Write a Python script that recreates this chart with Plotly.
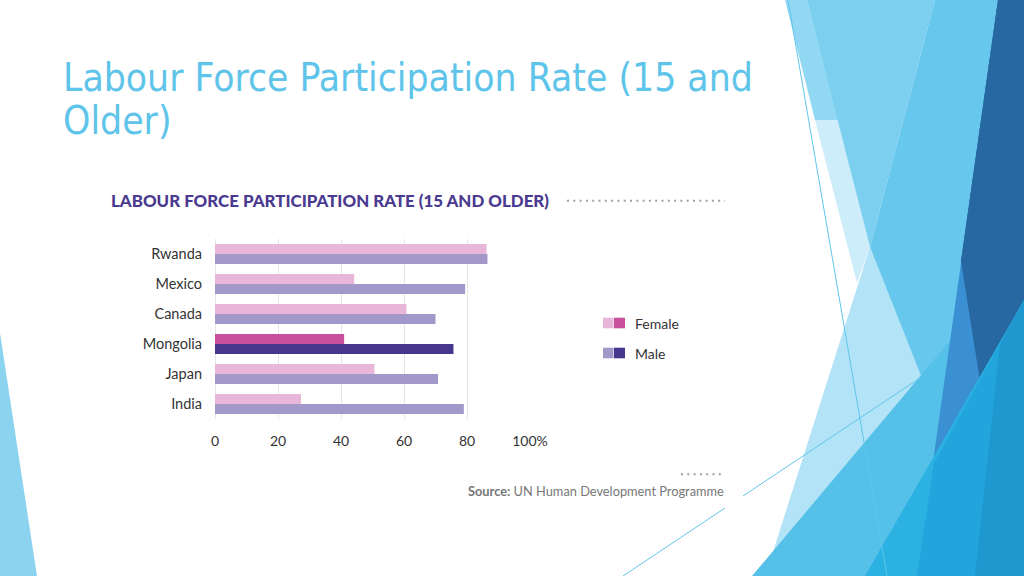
import plotly.graph_objects as go

# ---------------- data ----------------
countries = ["Rwanda", "Mexico", "Canada", "Mongolia", "Japan", "India"]
female = [86.2, 44.2, 60.8, 41.0, 50.6, 27.3]
male = [86.5, 79.4, 70.0, 75.7, 70.8, 79.0]
highlight = "Mongolia"
x_tickvals = [0, 20, 40, 60, 80, 100]
x_ticktext = ["0", "20", "40", "60", "80", "100%"]
series_names = ["Female", "Male"]

# ---------------- style ----------------
W, H = 1024, 576
FEM_LIGHT, FEM_DARK = "#e7b6d8", "#c9509c"
MAL_LIGHT, MAL_DARK = "#a398ca", "#46368e"
LABEL_FONT = "Lato, 'Open Sans', sans-serif"


def px(x):
    return x / W


def py(y):
    return 1 - y / H


def poly(pts):
    return "M " + " L ".join(f"{px(x):.4f},{py(y):.4f}" for x, y in pts) + " Z"


fem_colors = [FEM_DARK if c == highlight else FEM_LIGHT for c in countries]
mal_colors = [MAL_DARK if c == highlight else MAL_LIGHT for c in countries]

fig = go.Figure()
fig.add_trace(go.Bar(orientation="h", y=countries, x=female, name=series_names[0],
                     marker=dict(color=fem_colors, line=dict(width=0)), showlegend=False))
fig.add_trace(go.Bar(orientation="h", y=countries, x=male, name=series_names[1],
                     marker=dict(color=mal_colors, line=dict(width=0)), showlegend=False))

# ---------------- decorative background (slide theme) ----------------
deco = [
    ([(0, 333), (37, 576), (0, 576)], "#8cd3ef"),
    ([(785, 0), (807, 0), (838, 120), (815, 120)], "#92d7f3"),
    ([(815, 120), (838, 120), (870, 247), (857, 283)], "#cdedfa"),
    ([(870, 247), (921, 376), (766, 574)], "#b2e3f6"),
    ([(807, 0), (935, 0), (870, 247)], "#7dcff0"),
    ([(935, 0), (1024, 0), (1024, 576), (990, 576), (921, 376), (870, 247)], "#67c7ec"),
    ([(752, 576), (1024, 253), (1024, 576)], "#55c1e9"),
    ([(998, 0), (1024, 0), (1024, 576), (917, 576)], "#3a90d2"),
    ([(919, 0), (998, 0), (961, 261), (980, 380), (1024, 300), (1024, 0)], "#2e77ac"),
    ([(998, 0), (1024, 0), (1024, 300), (980, 380), (961, 261)], "#2868a2"),
    ([(1024, 300), (1024, 576), (865, 576)], "#2bb1e2"),
    ([(934, 463), (1024, 300), (1024, 576), (917, 576)], "#22a5dc"),
    ([(975, 576), (1024, 576), (1024, 300), (1000, 344)], "#1e98cf"),
]
shapes = []
for pts, col in deco:
    shapes.append(dict(type="path", xref="paper", yref="paper", path=poly(pts),
                       fillcolor=col, line=dict(width=0), layer="below"))

# thin decorative lines
for (x0, y0, x1, y1) in [(788, 0, 887, 576), (743, 496, 920, 378), (623, 576, 725, 508)]:
    shapes.append(dict(type="line", xref="paper", yref="paper",
                       x0=px(x0), y0=py(y0), x1=px(x1), y1=py(y1),
                       line=dict(color="#5ec6ea", width=1), layer="below"))

# dotted rules
shapes.append(dict(type="line", xref="paper", yref="paper", x0=px(567), x1=px(725),
                   y0=py(200.7), y1=py(200.7),
                   line=dict(color="#a0a0a0", width=2, dash="2px,4.3px")))
shapes.append(dict(type="line", xref="paper", yref="paper", x0=px(681), x1=px(721),
                   y0=py(474.3), y1=py(474.3),
                   line=dict(color="#a0a0a0", width=2, dash="2px,4.3px")))

# custom legend swatches (light + dark square per series)
legend_rows = [(series_names[0], FEM_LIGHT, FEM_DARK, 323), (series_names[1], MAL_LIGHT, MAL_DARK, 353)]
annotations = []
for name, lc, dc, yc in legend_rows:
    shapes.append(dict(type="rect", xref="paper", yref="paper", x0=px(603), x1=px(613.5),
                       y0=py(yc - 5.3), y1=py(yc + 5.3), fillcolor=lc, line=dict(width=0)))
    shapes.append(dict(type="rect", xref="paper", yref="paper", x0=px(614), x1=px(625),
                       y0=py(yc - 5.3), y1=py(yc + 5.3), fillcolor=dc, line=dict(width=0)))
    annotations.append(dict(xref="paper", yref="paper", x=px(633), y=py(yc), text=name,
                            xanchor="left", yanchor="middle", showarrow=False,
                            font=dict(family=LABEL_FONT, size=14, color="#333333")))

# slide title
title_font = dict(family="'Liberation Sans Narrow', 'DejaVu Sans Condensed', 'Liberation Sans', sans-serif",
                  size=38.7, color="#5ec4ea")
annotations.append(dict(xref="paper", yref="paper", x=px(61), y=py(77.5), xanchor="left",
                        yanchor="middle", showarrow=False,
                        text="Labour Force Participation Rate (15 and", font=title_font))
annotations.append(dict(xref="paper", yref="paper", x=px(61), y=py(120.5), xanchor="left",
                        yanchor="middle", showarrow=False, text="Older)", font=title_font))

# chart title
annotations.append(dict(xref="paper", yref="paper", x=px(109), y=py(200.7), xanchor="left",
                        yanchor="middle", showarrow=False,
                        text="LABOUR FORCE PARTICIPATION RATE (15 AND OLDER)",
                        font=dict(family=LABEL_FONT, size=16.9, color="#4a3a90", weight=900)))

# source
annotations.append(dict(xref="paper", yref="paper", x=px(726), y=py(491), xanchor="right",
                        yanchor="middle", showarrow=False,
                        text="<b>Source:</b> UN Human Development Programme",
                        font=dict(family=LABEL_FONT, size=12.8, color="#777777")))

fig.update_layout(
    width=W, height=H, autosize=False,
    margin=dict(l=0, r=0, t=0, b=0, autoexpand=False),
    paper_bgcolor="white", plot_bgcolor="rgba(0,0,0,0)",
    barmode="group", bargap=1/3, bargroupgap=0,
    showlegend=False,
    shapes=shapes, annotations=annotations,
    xaxis=dict(domain=[215 / W, 530 / W], range=[0, 100], tickvals=x_tickvals, ticktext=x_ticktext,
               showgrid=True, gridcolor="#e6e6e6", gridwidth=1,
               zeroline=True, zerolinecolor="#e6e6e6", zerolinewidth=1,
               showline=False, ticks="", ticklabelstandoff=12, automargin=False,
               tickfont=dict(family=LABEL_FONT, size=14, color="#333333"), fixedrange=True),
    yaxis=dict(domain=[1 - 419 / H, 1 - 239 / H], range=[5.5, -0.5], type="category",
               categoryorder="array", categoryarray=countries,
               showgrid=False, zeroline=False, showline=False, ticks="", ticklabelstandoff=12,
               automargin=False,
               tickfont=dict(family=LABEL_FONT, size=14.5, color="#333333"), fixedrange=True),
)

fig.write_html("out.html", config={"displayModeBar": False, "responsive": False},
               post_script="document.body.style.margin='0';document.body.style.overflow='hidden';")
